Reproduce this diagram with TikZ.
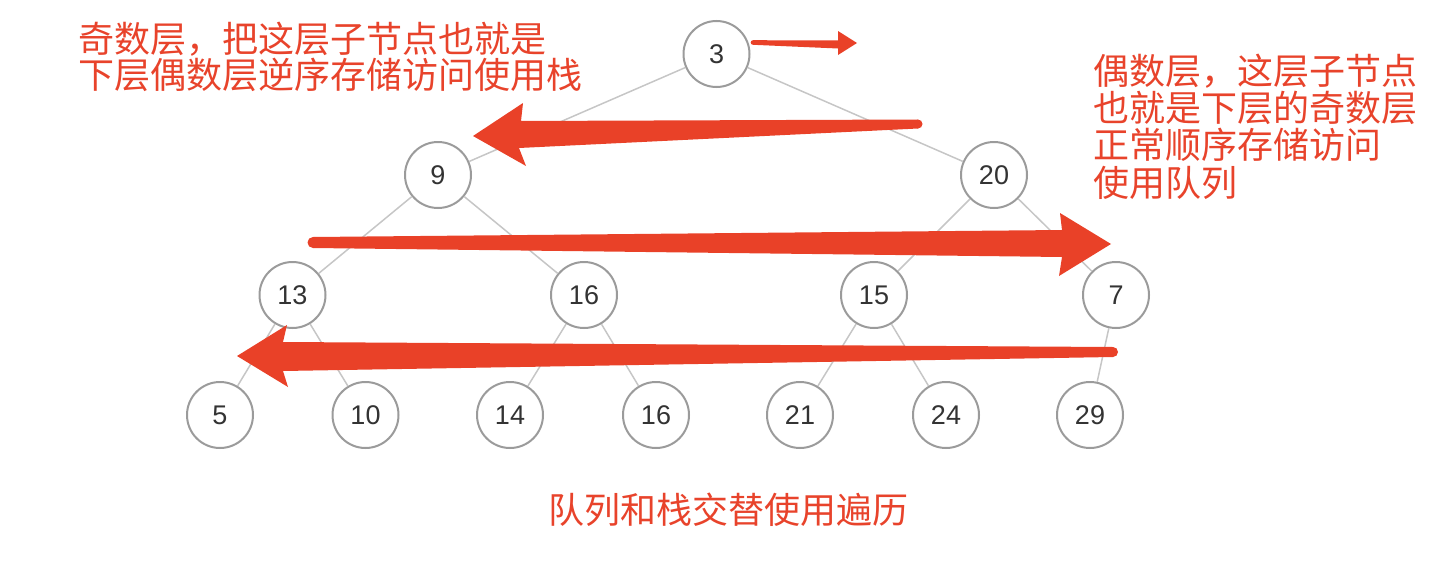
\documentclass[tikz,border=0pt]{standalone}
\usepackage{fontspec}
\newfontfamily\cjk{Noto Sans CJK SC}
\newfontfamily\numfont{Liberation Sans}
\definecolor{arrowred}{HTML}{E94128}
\definecolor{textred}{HTML}{E8432B}
\definecolor{ringgray}{HTML}{9B9B9B}
\definecolor{edgegray}{HTML}{C6C6C6}
\definecolor{numgray}{HTML}{333333}
\tikzset{
  treenode/.style={circle, draw=ringgray, line width=2pt, fill=white, minimum size=66pt, inner sep=0pt,
    font=\numfont\fontsize{27}{27}\selectfont, text=numgray},
  treeedge/.style={draw=edgegray, line width=1.5pt},
  redtext/.style={font=\cjk\fontsize{36}{37}\selectfont, text=textred, inner sep=0pt},
  redarrow/.style={fill=arrowred}
}
\begin{document}
\begin{tikzpicture}[x=1pt,y=-1pt]
\useasboundingbox (0,0) rectangle (1448,570);
% tree nodes
\node[treenode] (n3) at (716.5,54) {3};
\node[treenode] (n9) at (438,175) {9};
\node[treenode] (n20) at (994,175) {20};
\node[treenode] (n13) at (292.5,295) {13};
\node[treenode] (n16a) at (584,295) {16};
\node[treenode] (n15) at (874,295) {15};
\node[treenode] (n7) at (1116,295) {7};
\node[treenode] (n5) at (220,415) {5};
\node[treenode] (n10) at (365.5,415) {10};
\node[treenode] (n14) at (510,415) {14};
\node[treenode] (n16b) at (656,415) {16};
\node[treenode] (n21) at (800,415) {21};
\node[treenode] (n24) at (946,415) {24};
\node[treenode] (n29) at (1090,415) {29};
% edges
\path[treeedge] (n3) -- (n9);
\path[treeedge] (n3) -- (n20);
\path[treeedge] (n9) -- (n13);
\path[treeedge] (n9) -- (n16a);
\path[treeedge] (n20) -- (n15);
\path[treeedge] (n20) -- (n7);
\path[treeedge] (n13) -- (n5);
\path[treeedge] (n13) -- (n10);
\path[treeedge] (n16a) -- (n14);
\path[treeedge] (n16a) -- (n16b);
\path[treeedge] (n15) -- (n21);
\path[treeedge] (n15) -- (n24);
\path[treeedge] (n7) -- (n29);
% red arrows
\fill[redarrow] (753,40.2) -- (838,40.5) -- (838,31) -- (857,43) -- (838,55) -- (838,48.5) -- (753,44.8) -- cycle;
\fill[redarrow] (753,42.5) circle (2.3);
\fill[redarrow] (918,119.5) -- (521,121) -- (523,103) -- (473,136) -- (526,166) -- (519,148) -- (918,128.5) -- cycle;
\fill[redarrow] (918,124) circle (4.5);
\fill[redarrow] (313,237) -- (1062,230) -- (1060,213) -- (1111,244) -- (1059,276) -- (1062,257) -- (313,248) -- cycle;
\fill[redarrow] (313,242.5) circle (5.5);
\fill[redarrow] (1113,347) -- (283,342) -- (287,325) -- (237,356) -- (288,387) -- (283,371) -- (1113,357) -- cycle;
\fill[redarrow] (1113,352) circle (5);
% texts
\node[redtext, anchor=base west] (l1) at (78,52) {奇数层，把这层子节点也就是};
\node[redtext, anchor=base west] (l2) at (78,88) {下层偶数层逆序存储访问使用栈};
\node[redtext, anchor=base west] (r1) at (1093,84) {偶数层，这层子节点};
\node[redtext, anchor=base west] (r2) at (1093,121) {也就是下层的奇数层};
\node[redtext, anchor=base west] (r3) at (1093,158) {正常顺序存储访问};
\node[redtext, anchor=base west] (r4) at (1093,196) {使用队列};
\node[redtext, anchor=base] (b1) at (728.5,523) {队列和栈交替使用遍历};
\end{tikzpicture}
\end{document}
